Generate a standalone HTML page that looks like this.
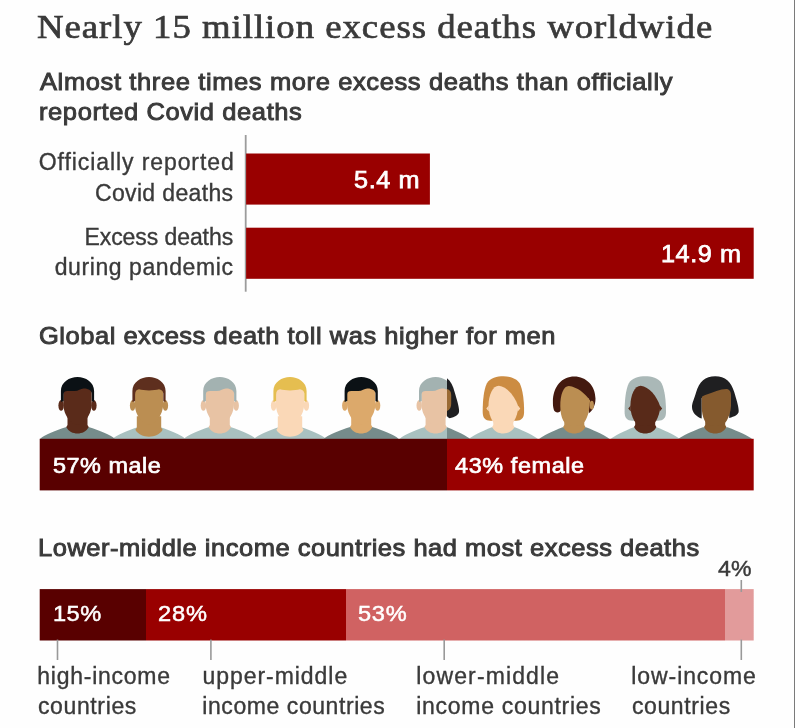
<!DOCTYPE html>
<html lang="en"><head><meta charset="utf-8"><title>Nearly 15 million excess deaths worldwide</title>
<style>
html,body{margin:0;padding:0;background:#fefefe;}
body{will-change:transform;width:795px;height:728px;position:relative;overflow:hidden;font-family:"Liberation Sans",sans-serif;}
.t{position:absolute;white-space:nowrap;margin:0;padding:0;}

svg{position:absolute;left:0;top:0;}
</style></head><body>
<svg width="795" height="728" viewBox="0 0 795 728">
<g transform="translate(0,370)">
<defs>
<path id="shW" d="M-37.5,69 C-33,64.5 -22,60.5 -11,57 L11,57 C22,60.5 33,64.5 37.5,69 Z"/>
<path id="shN" d="M-34.5,69 C-31,66 -22,61.5 -11.5,57.3 L11.5,57.3 C22,61.5 31,66 34.5,69 Z"/>
<path id="neck" d="M-10,44 L-10,55 L-11.2,57 C-9,61.5 -4.5,63.5 0,63.5 C4.5,63.5 9,61.5 11.2,57 L10,55 L10,44 Z"/>
<path id="mface" d="M-14.2,18 L-14.2,33 C-14.2,40 -12,45 -9,49 C-6.5,52.5 -3.5,54.5 0,54.5 C3.5,54.5 6.5,52.5 9,49 C12,45 14.2,40 14.2,33 L14.2,18 Z"/>
<path id="mhair" d="M-16.6,32 L-16.6,21 C-16.6,12 -8,6.9 0,6.9 C8,6.9 16.6,12 16.6,21 L16.6,32 L14.3,31 L14.3,23.5 C14.3,21 11,18.3 6,18.5 C3,18.7 1,21 -3,21.1 L-10,21.1 C-12.5,21.1 -13.9,22 -13.9,24.5 L-13.9,31 Z"/>
<path id="mhair2" d="M-16.6,32 L-16.6,21 C-16.6,12 -8,6.9 0,6.9 C8,6.9 16.6,12 16.6,21 L16.6,32 L14.3,31 L14.3,23.5 C14.3,21 12,19.5 10,19.3 C5,20.8 -5,20.8 -10,19.3 C-12,19.5 -13.9,21 -13.9,24.5 L-13.9,31 Z"/>
<path id="fhair" d="M-20.6,42 C-20.6,30 -19.5,20 -16.5,13.5 C-13.5,8 -6,6.3 0,6.3 C6,6.3 13.5,8 16.5,13.5 C19.5,20 20.8,30 20.8,42 C20.8,48 18,50.7 13,50.7 L-13,50.7 C-18,50.7 -20.6,48 -20.6,42 Z"/>
<path id="fface" d="M-14.8,36 C-14.8,25 -10.5,15.8 -4.5,15.8 C4,17 11.5,26 15,36.5 C14.8,42 13,47 11,50.7 C8,55 4,56 0,56 C-4,56 -8,55 -11,50.7 C-13,47 -14.8,42 -14.8,36 Z"/>
<path id="fears" d="M-14.5,35.5 L-17,38.6 L-14.5,41.5 Z M14.5,35.5 L17,38.6 L14.5,41.5 Z"/>
<path id="shair" d="M-21.4,32 C-21.4,16 -12,6.5 0,6.5 C12,6.5 21.2,16 21.2,28.5 C21.2,36 18,41 14.5,43.3 L14,28 L-13,28 L-13.3,40 C-13.8,43 -19.2,43.5 -20.4,40 C-21.4,37 -21.4,34 -21.4,32 Z"/>
<path id="sface" d="M-14,36 C-14,25 -11,16 -5.5,16 C3,17 10.5,23 15.8,30.6 L15.2,36 C15,42 13,47 11,50.7 C8,55 4,56 0,56 C-4,56 -8,55 -11,50.7 C-13,47 -14,42 -14,36 Z"/>
<path id="bhair" d="M0,6.3 C-10,6.3 -16,12 -19,22 C-21,29 -23.2,33 -23.2,37 C-23.2,43 -18,47 -13.5,48.6 L-13.5,28 L14,28 L14,48 C19,46.5 23.5,45 23.5,41 C23.5,36 21,29 19,22 C16,12 10,6.3 0,6.3 Z"/>
<path id="bface" d="M-13.5,36 L-13.4,28 C-13.4,26.5 -12.5,26 -10,25 C-2,22.5 5,19 11,19 C14,19 15.8,21.5 15.8,25 L15.8,36 C15.6,42 13.5,47 11.5,50.7 C8.5,55 4.5,56 0.5,56 C-3.5,56 -7.5,55 -10.5,50.7 C-12.5,47 -13.5,42 -13.5,36 Z"/>
<clipPath id="cL"><rect x="380" y="0" width="67.1" height="70"/></clipPath>
<clipPath id="cR"><rect x="447.1" y="0" width="60" height="70"/></clipPath>
</defs>
<!-- light shirts first -->
<g transform="translate(149,0)"><use href="#shW" fill="#a9c1c0" transform="scale(.97,1)"/></g>
<g transform="translate(219.8,0)"><use href="#shW" fill="#a9c1c0" transform="scale(.96,1)"/></g>
<g transform="translate(290,0)"><use href="#shW" fill="#a9c1c0" transform="scale(.96,1)"/></g>
<g transform="translate(503.3,0)"><use href="#shN" fill="#a9c1c0"/></g>
<g transform="translate(645.2,0)"><use href="#shN" fill="#a9c1c0"/></g>
<g clip-path="url(#cL)"><g transform="translate(435.6,0)"><use href="#shW" fill="#a9c1c0" transform="scale(.96,1)"/></g></g>
<!-- dark shirts -->
<g transform="translate(77.5,0)"><use href="#shW" fill="#768c8b"/></g>
<g transform="translate(361.2,0)"><use href="#shW" fill="#768c8b"/></g>
<g clip-path="url(#cR)"><g transform="translate(435.6,0)"><use href="#shN" fill="#768c8b"/></g></g>
<g transform="translate(574.3,0)"><use href="#shN" fill="#768c8b" transform="scale(1.02,1)"/></g>
<g transform="translate(715.2,0)"><use href="#shN" fill="#768c8b" transform="scale(1.07,1)"/></g>
<!-- head 1 -->
<g transform="translate(77.5,0)" fill="#5a2b1a"><use href="#neck"/><ellipse cx="-16.4" cy="35.4" rx="2.7" ry="5.3"/><ellipse cx="16.4" cy="35.4" rx="2.7" ry="5.3"/><use href="#mface"/><use href="#mhair" fill="#0b1115"/></g>
<!-- head 2 -->
<g transform="translate(149,0)" fill="#bb8e52"><use href="#neck" transform="scale(1.22,1.05)"/><ellipse cx="-16.4" cy="35.4" rx="2.7" ry="5.3"/><ellipse cx="16.4" cy="35.4" rx="2.7" ry="5.3"/><use href="#mface"/><use href="#mhair2" fill="#5e2f1e"/></g>
<!-- head 3 -->
<g transform="translate(219.8,0)" fill="#e8c3a4"><use href="#neck"/><ellipse cx="-16.4" cy="35.4" rx="2.7" ry="5.3"/><ellipse cx="16.4" cy="35.4" rx="2.7" ry="5.3"/><use href="#mface"/><use href="#mhair" fill="#a3b2b1"/></g>
<!-- head 4 -->
<g transform="translate(290,0)" fill="#fad8b7"><use href="#neck" transform="scale(1.22,1.05)"/><ellipse cx="-16.4" cy="35.4" rx="2.7" ry="5.3"/><ellipse cx="16.4" cy="35.4" rx="2.7" ry="5.3"/><use href="#mface"/><use href="#mhair2" fill="#e5be50"/></g>
<!-- head 5 -->
<g transform="translate(361.2,0)" fill="#dca96b"><use href="#neck"/><ellipse cx="-16.4" cy="35.4" rx="2.7" ry="5.3"/><ellipse cx="16.4" cy="35.4" rx="2.7" ry="5.3"/><use href="#mface"/><use href="#mhair" fill="#0b1115"/></g>
<!-- head 6 split -->
<g clip-path="url(#cL)"><g transform="translate(435.6,0)" fill="#e8c3a4"><use href="#neck"/><ellipse cx="-16.4" cy="35.4" rx="2.7" ry="5.3"/><use href="#mface"/><use href="#mhair" fill="#a3b2b1"/></g></g>
<g clip-path="url(#cR)"><g transform="translate(435.6,0)"><path fill="#1f1f21" d="M11,8 C15,11 17.5,16 19,22 C21,29 23.5,36 23.5,41 C23.5,45 19,47.3 14,48.2 C13,47.7 12,46.8 11,45.8 Z"/><path fill="#9a6a34" d="M11,19 C14,19.3 15.6,21.5 15.6,25 L15.6,34 C15.6,37 14.5,39.8 11,41.2 Z"/></g></g>
<!-- head 7 -->
<g transform="translate(503.3,0)" fill="#fad8b7"><use href="#fhair" fill="#cc8c42"/><use href="#neck"/><use href="#fface"/><use href="#fears"/></g>
<!-- head 8 -->
<g transform="translate(574.3,0)" fill="#bb8e52"><use href="#shair" fill="#43190f"/><use href="#neck"/><use href="#sface"/><ellipse cx="17.5" cy="35.2" rx="2.1" ry="4.4"/></g>
<!-- head 9 -->
<g transform="translate(645.2,0)" fill="#582a19"><use href="#fhair" fill="#aab8b7"/><use href="#neck"/><use href="#fface"/><use href="#fears"/></g>
<!-- head 10 -->
<g transform="translate(715.2,0)" fill="#855a2e"><use href="#bhair" fill="#1f1f21"/><use href="#neck"/><use href="#bface"/></g>
</g>

<defs><linearGradient id="gmf" x1="0" x2="1" y1="0" y2="0"><stop offset="0.00000" stop-color="#590000"/><stop offset="0.57031" stop-color="#590000"/><stop offset="0.57031" stop-color="#990000"/><stop offset="1.00000" stop-color="#990000"/></linearGradient><linearGradient id="gst" x1="0" x2="1" y1="0" y2="0"><stop offset="0.00000" stop-color="#590000"/><stop offset="0.14846" stop-color="#590000"/><stop offset="0.14846" stop-color="#990000"/><stop offset="0.42871" stop-color="#990000"/><stop offset="0.42871" stop-color="#d06262"/><stop offset="0.95924" stop-color="#d06262"/><stop offset="0.95924" stop-color="#e29b9b"/><stop offset="1.00000" stop-color="#e29b9b"/></linearGradient></defs>
<rect x="244.8" y="135" width="1.80" height="156.70" fill="#9c9c9c"/>
<rect x="246.1" y="153.5" width="183.80" height="51.10" fill="#990000"/>
<rect x="246.1" y="227.7" width="507.60" height="51.10" fill="#990000"/>
<rect x="39.7" y="438.8" width="714.00" height="51.60" fill="url(#gmf)"/>
<rect x="39.7" y="589.1" width="714.00" height="51.40" fill="url(#gst)"/>
<rect x="56.7" y="639.6" width="1.60" height="20.40" fill="#999999"/>
<rect x="210.1" y="639.6" width="1.60" height="20.40" fill="#999999"/>
<rect x="443.4" y="639.6" width="1.60" height="20.40" fill="#999999"/>
<rect x="740.5" y="639.6" width="1.60" height="20.40" fill="#999999"/>
<rect x="740.5" y="580" width="1.60" height="12.00" fill="#999999"/>
<rect x="794" y="0" width="1.00" height="728.00" fill="#7a7a7a"/>
</svg>
<div class="t " style="left:36.97px;top:6.02px;font-size:34px;line-height:41px;letter-spacing:0.923px;color:#3a3a3a;font-family:'Liberation Serif', serif;font-weight:400;-webkit-text-stroke:0.7px #3a3a3a;transform:scaleX(1.08);transform-origin:0 0;">Nearly 15 million excess deaths worldwide</div>
<div class="t " style="left:39.83px;top:67.21px;font-size:24.5px;line-height:29px;letter-spacing:0.600px;color:#3a3a3a;font-family:'Liberation Sans', sans-serif;font-weight:400;-webkit-text-stroke:0.95px #3a3a3a;transform:scaleX(1.04);transform-origin:0 0;">Almost three times more excess deaths than officially</div>
<div class="t " style="left:39.24px;top:96.51px;font-size:24.5px;line-height:29px;letter-spacing:0.584px;color:#3a3a3a;font-family:'Liberation Sans', sans-serif;font-weight:400;-webkit-text-stroke:0.95px #3a3a3a;transform:scaleX(1.04);transform-origin:0 0;">reported Covid deaths</div>
<div class="t " style="left:38.78px;top:148.33px;font-size:23px;line-height:28px;letter-spacing:0.913px;color:#3a3a3a;font-family:'Liberation Sans', sans-serif;font-weight:400;-webkit-text-stroke:0.35px #3a3a3a;">Officially reported</div>
<div class="t " style="left:94.93px;top:178.83px;font-size:23px;line-height:28px;letter-spacing:0.358px;color:#3a3a3a;font-family:'Liberation Sans', sans-serif;font-weight:400;-webkit-text-stroke:0.35px #3a3a3a;">Covid deaths</div>
<div class="t " style="left:84.48px;top:223.33px;font-size:23px;line-height:28px;letter-spacing:-0.075px;color:#3a3a3a;font-family:'Liberation Sans', sans-serif;font-weight:400;-webkit-text-stroke:0.35px #3a3a3a;">Excess deaths</div>
<div class="t " style="left:54.70px;top:253.03px;font-size:23px;line-height:28px;letter-spacing:0.584px;color:#3a3a3a;font-family:'Liberation Sans', sans-serif;font-weight:400;-webkit-text-stroke:0.35px #3a3a3a;">during pandemic</div>
<div class="t " style="left:353.88px;top:165.11px;font-size:24.5px;line-height:29px;letter-spacing:0.604px;color:#fff;font-family:'Liberation Sans', sans-serif;font-weight:400;-webkit-text-stroke:0.75px #fff;transform:scaleX(1.03);transform-origin:0 0;">5.4 m</div>
<div class="t " style="left:661.39px;top:239.11px;font-size:24.5px;line-height:29px;letter-spacing:0.545px;color:#fff;font-family:'Liberation Sans', sans-serif;font-weight:400;-webkit-text-stroke:0.75px #fff;transform:scaleX(1.03);transform-origin:0 0;">14.9 m</div>
<div class="t " style="left:38.72px;top:321.31px;font-size:24.5px;line-height:29px;letter-spacing:0.507px;color:#3a3a3a;font-family:'Liberation Sans', sans-serif;font-weight:400;-webkit-text-stroke:0.95px #3a3a3a;transform:scaleX(1.04);transform-origin:0 0;">Global excess death toll was higher for men</div>
<div class="t " style="left:52.53px;top:451.50px;font-size:22.5px;line-height:27px;letter-spacing:0.507px;color:#fff;font-family:'Liberation Sans', sans-serif;font-weight:400;-webkit-text-stroke:0.7px #fff;transform:scaleX(1.04);transform-origin:0 0;">57% male</div>
<div class="t " style="left:454.54px;top:451.50px;font-size:22.5px;line-height:27px;letter-spacing:0.592px;color:#fff;font-family:'Liberation Sans', sans-serif;font-weight:400;-webkit-text-stroke:0.7px #fff;transform:scaleX(1.04);transform-origin:0 0;">43% female</div>
<div class="t " style="left:37.89px;top:532.91px;font-size:24.5px;line-height:29px;letter-spacing:0.503px;color:#3a3a3a;font-family:'Liberation Sans', sans-serif;font-weight:400;-webkit-text-stroke:0.95px #3a3a3a;transform:scaleX(1.04);transform-origin:0 0;">Lower-middle income countries had most excess deaths</div>
<div class="t " style="left:717.72px;top:555.58px;font-size:22px;line-height:26px;letter-spacing:0.168px;color:#3a3a3a;font-family:'Liberation Sans', sans-serif;font-weight:400;-webkit-text-stroke:0.45px #3a3a3a;transform:scaleX(1.05);transform-origin:0 0;">4%</div>
<div class="t " style="left:53.09px;top:600.40px;font-size:22.5px;line-height:27px;letter-spacing:0.459px;color:#fff;font-family:'Liberation Sans', sans-serif;font-weight:400;-webkit-text-stroke:0.5px #fff;transform:scaleX(1.05);transform-origin:0 0;">15%</div>
<div class="t " style="left:158.48px;top:600.40px;font-size:22.5px;line-height:27px;letter-spacing:0.845px;color:#fff;font-family:'Liberation Sans', sans-serif;font-weight:400;-webkit-text-stroke:0.5px #fff;transform:scaleX(1.05);transform-origin:0 0;">28%</div>
<div class="t " style="left:358.32px;top:600.40px;font-size:22.5px;line-height:27px;letter-spacing:0.685px;color:#fff;font-family:'Liberation Sans', sans-serif;font-weight:400;-webkit-text-stroke:0.5px #fff;transform:scaleX(1.05);transform-origin:0 0;">53%</div>
<div class="t " style="left:37.27px;top:661.53px;font-size:23px;line-height:28px;letter-spacing:0.745px;color:#3a3a3a;font-family:'Liberation Sans', sans-serif;font-weight:400;-webkit-text-stroke:0.35px #3a3a3a;">high-income</div>
<div class="t " style="left:37.90px;top:692.03px;font-size:23px;line-height:28px;letter-spacing:0.639px;color:#3a3a3a;font-family:'Liberation Sans', sans-serif;font-weight:400;-webkit-text-stroke:0.35px #3a3a3a;">countries</div>
<div class="t " style="left:202.38px;top:661.53px;font-size:23px;line-height:28px;letter-spacing:0.965px;color:#3a3a3a;font-family:'Liberation Sans', sans-serif;font-weight:400;-webkit-text-stroke:0.35px #3a3a3a;">upper-middle</div>
<div class="t " style="left:202.32px;top:692.03px;font-size:23px;line-height:28px;letter-spacing:0.569px;color:#3a3a3a;font-family:'Liberation Sans', sans-serif;font-weight:400;-webkit-text-stroke:0.35px #3a3a3a;">income countries</div>
<div class="t " style="left:416.32px;top:661.53px;font-size:23px;line-height:28px;letter-spacing:1.121px;color:#3a3a3a;font-family:'Liberation Sans', sans-serif;font-weight:400;-webkit-text-stroke:0.35px #3a3a3a;">lower-middle</div>
<div class="t " style="left:416.32px;top:692.03px;font-size:23px;line-height:28px;letter-spacing:0.702px;color:#3a3a3a;font-family:'Liberation Sans', sans-serif;font-weight:400;-webkit-text-stroke:0.35px #3a3a3a;">income countries</div>
<div class="t " style="left:631.32px;top:661.53px;font-size:23px;line-height:28px;letter-spacing:0.913px;color:#3a3a3a;font-family:'Liberation Sans', sans-serif;font-weight:400;-webkit-text-stroke:0.35px #3a3a3a;">low-income</div>
<div class="t " style="left:631.90px;top:692.03px;font-size:23px;line-height:28px;letter-spacing:0.614px;color:#3a3a3a;font-family:'Liberation Sans', sans-serif;font-weight:400;-webkit-text-stroke:0.35px #3a3a3a;">countries</div>
</body></html>
